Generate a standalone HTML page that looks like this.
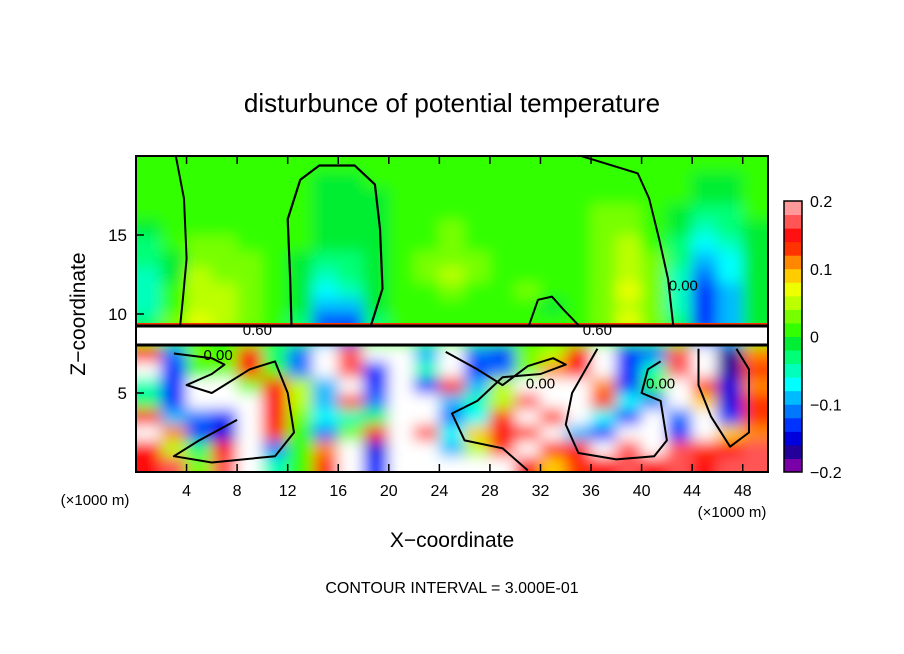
<!DOCTYPE html>
<html><head><meta charset="utf-8"><style>
html,body{margin:0;padding:0;background:#fff;}
svg{display:block;font-family:"Liberation Sans",sans-serif;}
</style></head><body>
<svg id="chart" width="904" height="654" viewBox="0 0 904 654">
<defs>
<clipPath id="plotclip"><rect x="136" y="156" width="632" height="316"/></clipPath>
<filter id="soft" x="-10%" y="-10%" width="120%" height="120%"><feGaussianBlur stdDeviation="7"/></filter>
</defs>
<text x="452" y="112" text-anchor="middle" font-size="26">disturbunce of potential temperature</text>
<g id="heat" clip-path="url(#plotclip)"><rect x="136" y="156" width="632" height="316" fill="#33ff00"/><g id="cells" filter="url(#soft)"></g></g>
<g id="overlay" clip-path="url(#plotclip)"></g>
<rect x="136" y="156" width="632" height="316" fill="none" stroke="#000" stroke-width="2"/>
<g id="axes"></g>
<g id="cbar"></g>
<text x="85" y="314" transform="rotate(-90 85 314)" text-anchor="middle" font-size="21">Z−coordinate</text>
<text x="452" y="547" text-anchor="middle" font-size="21">X−coordinate</text>
<text x="95" y="505" text-anchor="middle" font-size="15">(×1000 m)</text>
<text x="732" y="517" text-anchor="middle" font-size="15">(×1000 m)</text>
<text x="452" y="593" text-anchor="middle" font-size="16">CONTOUR INTERVAL = 3.000E-01</text>
</svg>
<script>
// ---- data ----
const xTicks = [4,8,12,16,20,24,28,32,36,40,44,48];
const yTicks = [5,10,15];
const cbarTickValues = [0.2,0.1,0,-0.1,-0.2];
const cbarTickLabels = ["0.2","0.1","0","−0.1","−0.2"];
const levelColors = ["#7a00a8","#220099","#0000dd","#0033ff","#0077ff","#00bbff","#00ffff","#00ffbb","#00ff77","#00ee33",
                     "#33ff00","#77ff00","#bbff00","#eeff00","#ffcc00","#ff8800","#ff3300","#ff1111","#ff5555","#ff9999"];
// field values (x0.01), rows z=0..19 (1 km), cols x=0..48 step 2 km; |v|>20 => white
const rowZ0 = [15,17,3,17,99,-5,1,13,99,-13,-99,-99,-99,-99,99,15,9,13,15,17,15,17,15,17,17];
const rowZ1 = [15,5,-3,15,99,-11,1,11,99,-15,-99,-99,-9,5,13,99,15,15,99,17,99,17,13,15,17];
const rowZ2 = [99,11,-13,-15,99,13,1,-11,3,15,-99,17,-7,9,15,13,99,-9,-13,-99,-99,-13,99,9,11];
const rowZ3 = [15,-9,-11,-13,-99,15,3,-7,-5,-3,-99,-99,-11,-7,13,99,13,99,-7,-13,-99,-11,99,-13,13];
const rowZ4 = [-3,-13,99,99,-99,15,5,-9,17,-11,-99,-99,-9,-5,5,17,99,-99,13,-7,-11,99,9,-15,13];
const rowZ5 = [-5,-13,99,99,3,15,5,-9,99,-13,-99,-13,15,-9,5,99,99,99,11,-13,1,99,13,-15,11];
const rowZ6 = [99,-13,1,3,15,1,-11,99,17,-13,-99,-5,-99,-13,-11,3,11,15,99,-13,-5,17,99,-17,13];
const rowZ7 = [15,-11,3,1,15,-3,-11,99,17,-99,-99,-9,-99,-11,-13,3,5,15,-99,-13,-11,17,99,-17,11];
const rowZ8 = [1,1,1,1,1,1,1,-9,-11,1,1,1,1,1,1,1,1,1,1,1,1,1,-11,-9,1];
const rowZ9 = [-3,3,7,5,3,1,-3,-13,-13,-3,1,1,1,1,1,1,1,1,3,7,3,-3,-13,-9,-1];
const rowZ10 = [-5,1,5,5,3,1,-1,-9,-9,-1,1,1,1,1,1,1,-1,1,3,5,3,-5,-13,-9,-1];
const rowZ11 = [-5,1,5,5,3,1,-1,-7,-5,-1,1,1,3,1,1,3,1,1,3,7,3,-5,-13,-9,-1];
const rowZ12 = [-5,-1,5,3,3,1,-1,-5,-3,-1,1,3,5,3,1,1,1,1,3,5,3,-5,-11,-7,-1];
const rowZ13 = [-3,-1,3,3,3,1,-1,-3,-3,-1,1,3,3,3,1,1,1,1,3,5,3,-3,-9,-7,-1];
const rowZ14 = [-3,1,3,3,1,1,1,-1,-1,-1,1,1,3,1,1,1,1,1,3,5,1,-3,-7,-5,-1];
const rowZ15 = [-1,1,1,1,1,1,1,-1,-1,-1,1,1,3,1,1,1,1,1,3,3,1,-1,-5,-3,-1];
const rowZ16 = [1,1,1,1,1,1,1,-1,-1,-1,1,1,1,1,1,1,1,1,3,3,1,-1,-3,-3,1];
const rowZ17 = [1,1,1,1,1,1,1,-1,-1,-1,1,1,1,1,1,1,1,1,1,1,1,1,-1,-1,1];
const rowZ18 = [1,1,1,1,1,1,1,-1,-1,1,1,1,1,1,1,1,1,1,1,1,1,1,-1,-1,1];
const rowZ19 = [1,1,1,1,1,1,1,1,1,1,1,1,1,1,1,1,1,1,1,1,1,1,1,1,1];
const fieldRows = [rowZ0,rowZ1,rowZ2,rowZ3,rowZ4,rowZ5,rowZ6,rowZ7,rowZ8,rowZ9,rowZ10,rowZ11,rowZ12,rowZ13,rowZ14,rowZ15,rowZ16,rowZ17,rowZ18,rowZ19];
// contour lines in data units [x km, z km]
const contourLeft = [[3.1,20.2],[3.8,17.3],[4.0,13.5],[3.7,10.9],[3.5,9.3]];
const contourOval = [[12.3,9.3],[12.2,12.2],[12.0,16],[13.0,18.5],[14.5,19.4],[17.3,19.4],[18.9,18.2],[19.3,15.4],[19.5,11.6],[18.6,9.3]];
const contourRight = [[34.4,20.2],[39.7,18.9],[40.6,17.3],[41.4,14.7],[42.1,12.2],[42.5,9.3]];
const contourBump = [[31.1,9.3],[31.8,10.9],[32.9,11.1],[33.8,10.3],[35,9.3]];
const contourLower = [[3,7.5],[6,7.2],[7,6.8],[6,6.2],[4,5.5],[6,5.0],[9,6.5],[11,7.0],[12,5.0],[12.5,2.5],[11,1.0],[6,0.6],[3,1.0],[5,2.0],[8,3.3]];
const contourLower2 = [[24.5,7.6],[27,6.5],[29,5.5],[31,6.7],[33,7.2],[34,6.8],[32,6.2],[29,6.0],[27,4.5],[25,3.7],[26,2.0],[29,1.5],[31,0.1]];
const contourLower3 = [[36.5,7.8],[34.5,5],[34,3],[35,1.2],[38,0.8],[41,1.0],[42,2.0],[41.5,4.5],[40,5.0],[40.5,6.5],[41.5,7.0]];
const contourLower4 = [[44.5,7.8],[44.5,5.5],[45.5,3.5],[47,1.6],[48.5,2.5],[48.5,6.5],[47.5,7.8]];
const levelLabels = [["0.60",9.6,9.0],["0.60",36.5,9.0],["0.00",6.5,7.4],["0.00",32.0,5.6],["0.00",41.5,5.6],["0.00",43.3,11.8]];
const bandTop = 9.24, bandBottom = 8.04;

// ---- axis functions ----
const X0=136,X1=768,Y0=472,Y1=156, XMAX=50, ZMAX=20;
const sx = x => X0 + (x/XMAX)*(X1-X0);
const sy = z => Y0 - (z/ZMAX)*(Y0-Y1);
const NS="http://www.w3.org/2000/svg";
function mk(tag, attrs, parent){const e=document.createElementNS(NS,tag);for(const k in attrs)e.setAttribute(k,attrs[k]);parent.appendChild(e);return e;}
function colorFor(v){ if(Math.abs(v)>20) return "#ffffff"; let i=Math.floor((v+20)/2); i=Math.max(0,Math.min(19,i)); return levelColors[i]; }

const cells=document.getElementById('cells');
const nR=fieldRows.length;
fieldRows.forEach((row,zi)=>{
  const nC=row.length;
  row.forEach((v,xi)=>{
    const x=xi*2, z=zi;
    let x1=sx(x)-0.5, x2=sx(x+2)+0.5, y1=sy(z+1)-0.5, y2=sy(z)+0.5;
    if(xi===0) x1-=20;
    if(xi===nC-1) x2+=20;
    if(zi===0) y2+=20;
    if(zi===nR-1) y1-=20;
    const r=mk('rect',{x:x1,y:y1,width:x2-x1,height:y2-y1,fill:colorFor(v)},cells);
    
    
  });
});

const ov=document.getElementById('overlay');
const band=mk('rect',{x:X0,y:sy(bandTop),width:X1-X0,height:sy(bandBottom)-sy(bandTop),fill:"#fff"},ov);


const rl=mk('line',{x1:X0,x2:X1,y1:sy(bandTop)-2,y2:sy(bandTop)-2,stroke:"#ff3300","stroke-width":2},ov);


[bandTop,bandBottom].forEach(z=>{
  const l=mk('line',{x1:X0,x2:X1,y1:sy(z),y2:sy(z),stroke:"#000","stroke-width":3},ov);
  
  
});
function poly(pts,w,name,dash){
  const d=pts.map((p,i)=>(i?'L':'M')+sx(p[0]).toFixed(1)+','+sy(p[1]).toFixed(1)).join(' ');
  const p=mk('path',{d:d,fill:"none",stroke:"#000","stroke-width":w,"stroke-linejoin":"round"},ov);
  if(dash)p.setAttribute('stroke-dasharray',dash);
  
  
}
poly(contourLeft,2,'contour-left');
poly(contourOval,2.2,'contour-oval');
poly(contourRight,2,'contour-right');
poly(contourBump,2,'contour-bump');
poly(contourLower,2,'contour-lower-a');
poly(contourLower2,2,'contour-lower-b');
poly(contourLower3,2,'contour-lower-c');
poly(contourLower4,2,'contour-lower-d');
levelLabels.forEach(l=>{
  const t=mk('text',{x:sx(l[1]),y:sy(l[2])+5,"font-size":15,"text-anchor":"middle",fill:"#000"},ov);
  t.textContent=l[0];
  
  
});

const ax=document.getElementById('axes');
xTicks.forEach(v=>{
  const t=mk('line',{x1:sx(v),x2:sx(v),y1:Y0,y2:Y0-8,stroke:"#000","stroke-width":1.5},ax);
  
  
  const t2=mk('line',{x1:sx(v),x2:sx(v),y1:Y1,y2:Y1+8,stroke:"#000","stroke-width":1.5},ax);
  
  
  const lb=mk('text',{x:sx(v),y:496,"font-size":16,"text-anchor":"middle"},ax);
  lb.textContent=v;
  
  
});
yTicks.forEach(v=>{
  const t=mk('line',{x1:X0,x2:X0+8,y1:sy(v),y2:sy(v),stroke:"#000","stroke-width":1.5},ax);
  
  
  const lb=mk('text',{x:127,y:sy(v)+6,"font-size":17,"text-anchor":"end"},ax);
  lb.textContent=v;
  
  
});

const cb=document.getElementById('cbar');
const CBX=784,CBW=18,CBT=201,CBB=472;
const segH=(CBB-CBT)/levelColors.length;
levelColors.forEach((c,i)=>{
  const r=mk('rect',{x:CBX,y:CBB-(i+1)*segH,width:CBW,height:segH+0.5,fill:c},cb);
  
  
});
const fr=mk('rect',{x:CBX,y:CBT,width:CBW,height:CBB-CBT,fill:"none",stroke:"#000","stroke-width":1.5},cb);


cbarTickValues.forEach((v,i)=>{
  const y=CBB-(v+0.2)/0.4*(CBB-CBT);
  const lb=mk('text',{x:810,y:y+6,"font-size":16},cb);
  lb.textContent=cbarTickLabels[i];
  
  
});
</script>
</body></html>
